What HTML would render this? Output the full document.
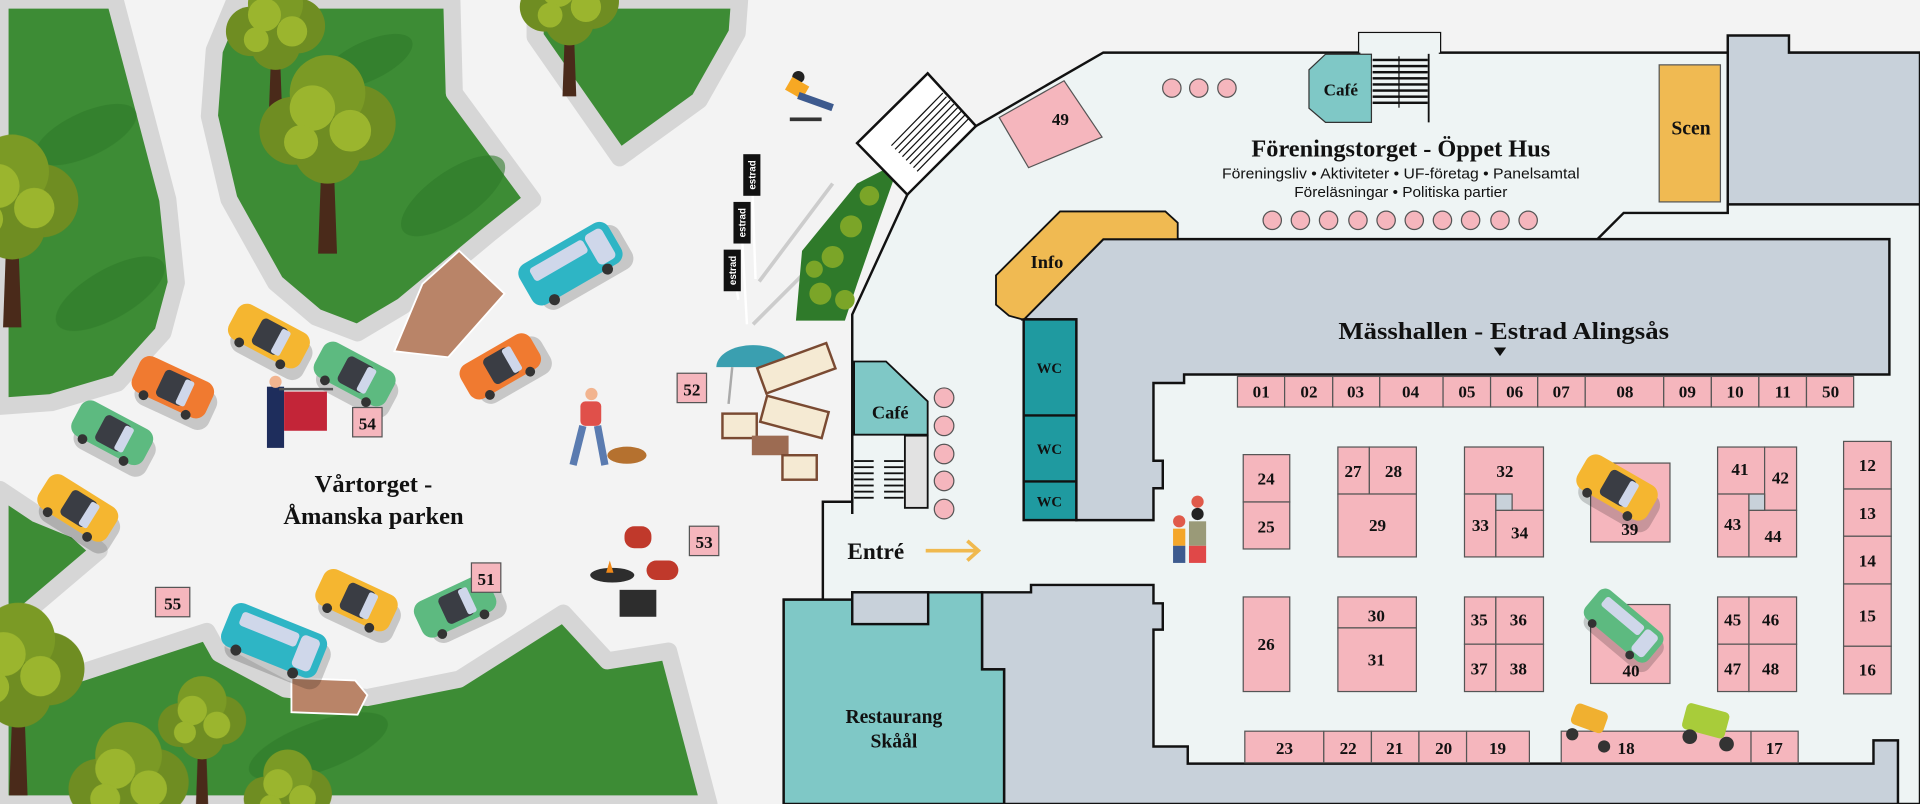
<!DOCTYPE html>
<html><head><meta charset="utf-8"><style>
html,body{margin:0;padding:0;background:#f3f3f3;overflow:hidden;width:1920px;height:804px}
svg{display:block;position:absolute;left:0;top:0}
.n{font-family:"Liberation Serif",serif;font-weight:bold;font-size:14px;fill:#111;text-anchor:middle}
.t{font-family:"Liberation Serif",serif;font-weight:bold;fill:#111;text-anchor:middle}
.s{font-family:"Liberation Sans",sans-serif;fill:#111;text-anchor:middle}
.pk{fill:#f5b6bd;stroke:#555;stroke-width:1}
</style></head><body>
<svg width="1920" height="804" viewBox="0 0 1568 657" preserveAspectRatio="none" xmlns="http://www.w3.org/2000/svg" overflow="hidden">
<defs>
<clipPath id="clp"><rect width="1568" height="657"/></clipPath>
<symbol id="car" viewBox="0 0 70 36" overflow="visible">
<rect x="6" y="6" width="66" height="34" rx="10" fill="#000" opacity="0.18"/>
<rect x="0" y="0" width="66" height="32" rx="9"/>
<rect x="22" y="4" width="24" height="24" rx="4" fill="#3a3d44"/>
<rect x="40" y="5" width="8" height="22" rx="2" fill="#cfd7ea"/>
<circle cx="14" cy="32" r="4" fill="#333"/><circle cx="52" cy="32" r="4" fill="#333"/>
</symbol>
<symbol id="van" viewBox="0 0 84 40" overflow="visible">
<rect x="6" y="6" width="84" height="40" rx="10" fill="#000" opacity="0.18"/>
<rect x="0" y="0" width="84" height="38" rx="9"/>
<rect x="10" y="6" width="50" height="12" rx="3" fill="#cfd7ea"/>
<rect x="62" y="5" width="16" height="28" rx="4" fill="#cfd7ea"/>
<circle cx="16" cy="38" r="4.5" fill="#333"/><circle cx="66" cy="38" r="4.5" fill="#333"/>
</symbol>
<symbol id="tree" viewBox="-40 -40 80 110" overflow="visible">
<path d="M-3 10 L-5 65 L5 65 L3 10Z" fill="#4a2a1a"/>
<circle cx="-18" cy="0" r="18" fill="#6f8d22"/><circle cx="16" cy="-4" r="20" fill="#6f8d22"/>
<circle cx="0" cy="-20" r="20" fill="#7b9a25"/><circle cx="0" cy="10" r="18" fill="#6f8d22"/>
<circle cx="-8" cy="-12" r="12" fill="#9bb52e"/><circle cx="12" cy="0" r="11" fill="#9bb52e"/><circle cx="-14" cy="6" r="9" fill="#9bb52e"/>
</symbol>
</defs>
<g clip-path="url(#clp)">
<rect width="1568" height="657" fill="#f3f3f3"/>

<g stroke="#d6d6d6" stroke-width="14" stroke-linejoin="round" fill="#3d8c35">
<polygon points="0,0 94,0 112,68 137,163 144,231 133,272 96,313 42,329 0,332"/>
<polygon points="192,0 369,0 371,76 435,163 400,191 329,250 292,272 258,259 225,231 187,163 171,95 175,41"/>
<polygon points="437,0 604,0 602,27 571,82 506,129 437,30"/>
<polygon points="0,400 30,420 62,433 81,450 21,501 0,505"/>
<polygon points="0,522 50,555 169,516 179,534 233,563 300,570 375,555 460,501 496,540 546,532 579,657 0,657"/>
</g>
<g fill="#2f7a2a" opacity="0.6">
<ellipse cx="70" cy="110" rx="45" ry="18" transform="rotate(-25 70 110)"/>
<ellipse cx="90" cy="240" rx="50" ry="20" transform="rotate(-30 90 240)"/>
<ellipse cx="300" cy="50" rx="40" ry="16" transform="rotate(-25 300 50)"/>
<ellipse cx="370" cy="160" rx="50" ry="20" transform="rotate(-35 370 160)"/>
<ellipse cx="260" cy="610" rx="60" ry="20" transform="rotate(-20 260 610)"/>
</g>

<use href="#tree" x="-50" y="110" width="120" height="165"/>
<use href="#tree" x="180" y="-20" width="90" height="125"/>
<use href="#tree" x="205" y="45" width="125" height="170"/>
<use href="#tree" x="420" y="-40" width="90" height="125"/>
<use href="#tree" x="-45" y="490" width="120" height="170"/>
<use href="#tree" x="125" y="550" width="80" height="115"/>
<use href="#tree" x="50" y="590" width="110" height="150"/>
<use href="#tree" x="195" y="610" width="80" height="115"/>

<polygon points="322,287 345,232 375,205 412,240 366,292" fill="#b98468" stroke="#fff" stroke-width="1.5"/>
<polygon points="238,554 290,556 300,568 292,584 238,582" fill="#b98468" stroke="#fff" stroke-width="1.5"/>

<use href="#car" fill="#f5b630" x="0" y="0" width="70" height="36" transform="translate(198,245) rotate(28)"/>
<use href="#car" fill="#f07a30" x="0" y="0" width="70" height="36" transform="translate(118,288) rotate(25)"/>
<use href="#car" fill="#5dba80" x="0" y="0" width="70" height="36" transform="translate(70,324) rotate(28)"/>
<use href="#car" fill="#f5b630" x="0" y="0" width="70" height="36" transform="translate(44,384) rotate(32)"/>
<use href="#car" fill="#5dba80" x="0" y="0" width="70" height="36" transform="translate(268,276) rotate(28)"/>
<use href="#car" fill="#f07a30" x="0" y="0" width="70" height="36" transform="translate(372,302) rotate(-30)"/>
<use href="#van" fill="#2eb5c5" x="0" y="0" width="84" height="40" transform="translate(420,220) rotate(-30)"/>
<use href="#car" fill="#f5b630" x="0" y="0" width="70" height="36" transform="translate(268,462) rotate(25)"/>
<use href="#van" fill="#2eb5c5" x="0" y="0" width="84" height="40" transform="translate(192,490) rotate(22)"/>
<use href="#car" fill="#5dba80" x="0" y="0" width="70" height="36" transform="translate(335,495) rotate(-25)"/>

<g>
<line x1="614" y1="140" x2="617" y2="228" stroke="#fff" stroke-width="2"/>
<line x1="605" y1="175" x2="610" y2="265" stroke="#fff" stroke-width="2"/>
<line x1="598" y1="215" x2="603" y2="245" stroke="#fff" stroke-width="2"/>
<rect x="607" y="126" width="14" height="34" fill="#111"/>
<rect x="599" y="165" width="14" height="34" fill="#111"/>
<rect x="591" y="204" width="14" height="34" fill="#111"/>
<text transform="translate(617,143) rotate(-90)" class="s" font-size="8" style="fill:#fff;font-weight:bold">estrad</text>
<text transform="translate(609,182) rotate(-90)" class="s" font-size="8" style="fill:#fff;font-weight:bold">estrad</text>
<text transform="translate(601,221) rotate(-90)" class="s" font-size="8" style="fill:#fff;font-weight:bold">estrad</text>
<line x1="620" y1="230" x2="680" y2="150" stroke="#ccc" stroke-width="3"/>
<line x1="615" y1="265" x2="690" y2="190" stroke="#ccc" stroke-width="3"/>
</g>

<g>
<path d="M585,300 A30,18 0 0 1 645,300 Z" fill="#3a9fb0"/>
<line x1="598" y1="300" x2="595" y2="330" stroke="#aaa" stroke-width="2"/>
<rect x="620" y="290" width="60" height="22" fill="#f5ead3" stroke="#7a4a32" stroke-width="2" transform="rotate(-20 650 300)"/>
<rect x="590" y="338" width="28" height="20" fill="#f5ead3" stroke="#7a4a32" stroke-width="2"/>
<rect x="623" y="330" width="52" height="22" fill="#f5ead3" stroke="#7a4a32" stroke-width="2" transform="rotate(15 650 340)"/>
<rect x="614" y="356" width="30" height="16" fill="#9c6b52"/>
<rect x="639" y="372" width="28" height="20" fill="#f5ead3" stroke="#7a4a32" stroke-width="2"/>
<circle cx="483" cy="322" r="5" fill="#f2b48f"/><rect x="474" y="328" width="17" height="20" rx="4" fill="#e0504a"/><path d="M476,348 L468,380 M488,348 L494,380" stroke="#5a7bb0" stroke-width="6"/>
<ellipse cx="512" cy="372" rx="16" ry="7" fill="#b5712f"/>
<circle cx="652" cy="63" r="5" fill="#222"/><rect x="643" y="66" width="16" height="12" fill="#f7a823" transform="rotate(30 651 72)"/><path d="M652,78 L680,88" stroke="#3d5a8e" stroke-width="6"/>
<rect x="645" y="96" width="26" height="3" fill="#333"/>
<rect x="218" y="316" width="14" height="50" fill="#1e2d5c"/><circle cx="225" cy="312" r="5" fill="#f2b48f"/>
<rect x="232" y="320" width="35" height="32" fill="#c32538"/><line x1="228" y1="318" x2="272" y2="318" stroke="#555" stroke-width="2"/>
<g fill="#c0392b"><rect x="510" y="430" width="22" height="18" rx="8"/><rect x="528" y="458" width="26" height="16" rx="8"/></g>
<rect x="506" y="482" width="30" height="22" fill="#2d2d2d"/><ellipse cx="500" cy="470" rx="18" ry="6" fill="#2d2d2d"/>
<path d="M495,468 l3,-10 l3,10z" fill="#f08a1a"/>
<rect x="778" y="148" width="14" height="45" rx="5" fill="#d7d2b8"/><circle cx="785" cy="140" r="6" fill="#222"/>
<rect x="770" y="160" width="10" height="30" fill="#f4a62a"/><rect x="818" y="155" width="10" height="32" fill="#e04848"/>
<rect x="1282" y="56" width="14" height="60" fill="#1e4f66"/><rect x="1296" y="60" width="12" height="55" fill="#f4a62a"/>
<circle cx="1289" cy="52" r="6" fill="#c2463b"/><circle cx="1302" cy="58" r="5" fill="#222"/>
<circle cx="880" cy="118" r="10" fill="none" stroke="#e4a81c" stroke-width="2"/><circle cx="912" cy="118" r="10" fill="none" stroke="#e4a81c" stroke-width="2"/>
<rect x="890" y="85" width="12" height="24" fill="#6a7fb0"/><circle cx="898" cy="80" r="5" fill="#f0b94e"/>
</g>

<polygon points="650,262 655,205 700,150 735,132 718,180 700,232 690,262" fill="#2f7a2a"/>
<g fill="#7ba528"><circle cx="670" cy="240" r="9"/><circle cx="680" cy="210" r="9"/><circle cx="695" cy="185" r="9"/><circle cx="710" cy="160" r="8"/><circle cx="665" cy="220" r="7"/><circle cx="690" cy="245" r="8"/></g>

<polygon points="741,159 700,117 757.6,60 797,103 901,43 1110,43 1110,27 1176,27 1176,43 1568,43 1568,657 640,657 640,490 672,490 672,410 696,410 696,257" fill="#eef4f4" stroke="#111" stroke-width="2"/>
<polygon points="700,117 757.6,60 797,103 741,159" fill="#fff" stroke="#111" stroke-width="2"/>
<g stroke="#111" stroke-width="1">
<line x1="728" y1="119" x2="770" y2="76"/><line x1="731" y1="122" x2="773" y2="79"/><line x1="734" y1="125" x2="776" y2="82"/><line x1="737" y1="128" x2="779" y2="85"/><line x1="740" y1="131" x2="782" y2="88"/><line x1="743" y1="134" x2="785" y2="91"/><line x1="746" y1="137" x2="788" y2="94"/><line x1="749" y1="140" x2="791" y2="97"/>
</g>
<polygon points="1411,43 1411,29 1461,29 1461,43 1568,43 1568,167 1411,167" fill="#c8d1da" stroke="#111" stroke-width="2"/>
<polyline points="1305,195 1326,174 1411,174 1411,167" fill="none" stroke="#111" stroke-width="2"/>
<rect x="1110" y="27" width="66" height="16" fill="#eef4f4"/>
<g fill="#111"><rect x="1121" y="48" width="45" height="2"/><rect x="1121" y="53" width="45" height="2"/><rect x="1121" y="58" width="45" height="2"/><rect x="1121" y="63" width="45" height="2"/><rect x="1121" y="68" width="45" height="2"/><rect x="1121" y="73" width="45" height="2"/><rect x="1121" y="78" width="45" height="2"/><rect x="1121" y="83" width="45" height="2"/><rect x="1142" y="46" width="1" height="42"/><rect x="1166" y="44" width="1.5" height="56"/></g>
<polygon points="1082.5,44.3 1120,44.3 1120,100 1082.5,100 1069,88.4 1069,57" fill="#7fc8c6" stroke="#333" stroke-width="1"/>
<text x="1095" y="78" class="t" font-size="14">Café</text>
<polygon points="816,96 869,66 900,112 840,137" class="pk"/>
<text x="866" y="102" class="n">49</text>
<g class="pk"><circle cx="957" cy="72" r="7.5"/><circle cx="979" cy="72" r="7.5"/><circle cx="1002" cy="72" r="7.5"/>
<circle cx="1039" cy="180" r="7.5"/><circle cx="1062" cy="180" r="7.5"/><circle cx="1085" cy="180" r="7.5"/><circle cx="1109" cy="180" r="7.5"/><circle cx="1132" cy="180" r="7.5"/><circle cx="1155" cy="180" r="7.5"/><circle cx="1178" cy="180" r="7.5"/><circle cx="1201" cy="180" r="7.5"/><circle cx="1225" cy="180" r="7.5"/><circle cx="1248" cy="180" r="7.5"/>
<circle cx="771" cy="325" r="8"/><circle cx="771" cy="348" r="8"/><circle cx="771" cy="371" r="8"/><circle cx="771" cy="393" r="8"/><circle cx="771" cy="416" r="8"/></g>
<rect x="1355" y="53" width="50" height="112" fill="#f0ba52" stroke="#555" stroke-width="1"/>
<text x="1381" y="110" class="t" font-size="16">Scen</text>
<text x="1144" y="128" class="t" font-size="20" textLength="244" lengthAdjust="spacingAndGlyphs">Föreningstorget - Öppet Hus</text>
<text x="1144" y="146" class="s" font-size="12" textLength="292" lengthAdjust="spacingAndGlyphs">Föreningsliv • Aktiviteter  • UF-företag • Panelsamtal</text>
<text x="1144" y="161" class="s" font-size="12" textLength="174" lengthAdjust="spacingAndGlyphs">Föreläsningar • Politiska partier</text>

<polygon points="901,195.4 1543,195.4 1543,306 967,306 967,313 942,313 942,376.5 949.6,376.5 949.6,399 942,399 942,425 879,425 879,261 836,261" fill="#c8d1da" stroke="#111" stroke-width="2"/>
<polygon points="865.7,172.8 951.7,172.8 961.8,182 961.8,195.4 901,195.4 836,261.3 824,258 813.4,249 813.4,225" fill="#f0ba52" stroke="#111" stroke-width="1.5"/>
<text x="855" y="219" class="t" font-size="15">Info</text>
<rect x="836" y="261" width="43" height="164" fill="#1f9aa0" stroke="#111" stroke-width="2"/>
<line x1="836" y1="339.5" x2="879" y2="339.5" stroke="#111" stroke-width="2"/>
<line x1="836" y1="393.4" x2="879" y2="393.4" stroke="#111" stroke-width="2"/>
<text x="857" y="305" class="t" font-size="12">WC</text>
<text x="857" y="371" class="t" font-size="12">WC</text>
<text x="857" y="414" class="t" font-size="12">WC</text>
<text x="1228" y="277" class="t" font-size="20" textLength="270" lengthAdjust="spacingAndGlyphs">Mässhallen - Estrad Alingsås</text>
<polygon points="1220,284 1230,284 1225,291" fill="#111"/>

<polygon points="802,484 842,484 842,478 942,478 942,493 949.6,493 949.6,514.5 942,514.5 942,610 970,610 970,624 1530,624 1530,605 1550,605 1550,657 820,657 820,547 802,547" fill="#c8d1da" stroke="#111" stroke-width="2"/>
<polygon points="640,490 696,490 696,484 802,484 802,547 820,547 820,657 640,657" fill="#7fc8c6" stroke="#111" stroke-width="2"/>
<rect x="696" y="484" width="62" height="26" fill="#c8d1da" stroke="#111" stroke-width="2"/>
<text x="730" y="591" class="t" font-size="16">Restaurang</text>
<text x="730" y="611" class="t" font-size="16">Skåål</text>
<polygon points="697.5,295.4 723.6,295.4 757.6,328 757.6,355.2 697.5,355.2" fill="#7fc8c6" stroke="#111" stroke-width="1.5"/>
<text x="727" y="342" class="t" font-size="15">Café</text>
<rect x="739" y="356" width="18.6" height="59" fill="#e2e2e2" stroke="#111" stroke-width="1.5"/>
<g fill="#111"><rect x="697.5" y="376" width="16" height="1.5"/><rect x="697.5" y="381" width="16" height="1.5"/><rect x="697.5" y="386" width="16" height="1.5"/><rect x="697.5" y="391" width="16" height="1.5"/><rect x="697.5" y="396" width="16" height="1.5"/><rect x="697.5" y="401" width="16" height="1.5"/><rect x="697.5" y="406" width="16" height="1.5"/>
<rect x="722" y="376" width="16" height="1.5"/><rect x="722" y="381" width="16" height="1.5"/><rect x="722" y="386" width="16" height="1.5"/><rect x="722" y="391" width="16" height="1.5"/><rect x="722" y="396" width="16" height="1.5"/><rect x="722" y="401" width="16" height="1.5"/><rect x="722" y="406" width="16" height="1.5"/></g>
<line x1="696" y1="355" x2="696" y2="420" stroke="#111" stroke-width="2"/>
<text x="692" y="457" class="t" font-size="19" style="text-anchor:start">Entré</text>
<path d="M756,450 L798,450 M790,442 L799,450 L790,458" stroke="#f0b94e" stroke-width="3" fill="none"/>

<g class="pk">
<rect x="1010.6" y="307.6" width="38.5" height="25"/><rect x="1049.1" y="307.6" width="39.3" height="25"/><rect x="1088.4" y="307.6" width="38.4" height="25"/><rect x="1126.8" y="307.6" width="51.7" height="25"/><rect x="1178.5" y="307.6" width="38.8" height="25"/><rect x="1217.3" y="307.6" width="38.5" height="25"/><rect x="1255.8" y="307.6" width="38.8" height="25"/><rect x="1294.6" y="307.6" width="64.1" height="25"/><rect x="1358.7" y="307.6" width="38.9" height="25"/><rect x="1397.6" y="307.6" width="38.8" height="25"/><rect x="1436.4" y="307.6" width="38.9" height="25"/><rect x="1475.3" y="307.6" width="38.5" height="25"/>
<rect x="1015.3" y="371.5" width="38" height="38.7"/><rect x="1015.3" y="410.2" width="38" height="38.4"/><rect x="1015.3" y="487.8" width="38" height="77.3"/>
<rect x="1092.6" y="365.3" width="25.7" height="38.4"/><rect x="1118.3" y="365.3" width="38.4" height="38.4"/><rect x="1092.6" y="403.7" width="64.1" height="51.4"/>
<rect x="1092.6" y="487.8" width="64.1" height="25.3"/><rect x="1092.6" y="513.1" width="64.1" height="52"/>
<polygon points="1196,365.3 1260.5,365.3 1260.5,417 1221.6,417 1221.6,403.7 1196,403.7"/><rect x="1196" y="403.7" width="25.6" height="51.4"/><rect x="1221.6" y="417" width="38.9" height="38.1"/>
<rect x="1299" y="378.4" width="64.8" height="64.5"/><rect x="1299" y="494" width="64.8" height="64.5"/>
<rect x="1196" y="487.8" width="25.6" height="38.6"/><rect x="1221.6" y="487.8" width="38.9" height="38.6"/><rect x="1196" y="526.4" width="25.6" height="38.7"/><rect x="1221.6" y="526.4" width="38.9" height="38.7"/>
<rect x="1402.7" y="365.3" width="38.4" height="38.4"/><rect x="1441.1" y="365.3" width="26.1" height="51.7"/><rect x="1402.7" y="403.7" width="25.6" height="51.4"/><rect x="1428.3" y="417" width="38.9" height="38.1"/>
<rect x="1402.7" y="487.8" width="25.6" height="38.6"/><rect x="1428.3" y="487.8" width="38.9" height="38.6"/><rect x="1402.7" y="526.4" width="25.6" height="38.7"/><rect x="1428.3" y="526.4" width="38.9" height="38.7"/>
<rect x="1505.6" y="360.7" width="38.9" height="38.9"/><rect x="1505.6" y="399.6" width="38.9" height="38.6"/><rect x="1505.6" y="438.2" width="38.9" height="39"/><rect x="1505.6" y="477.2" width="38.9" height="50.9"/><rect x="1505.6" y="528.1" width="38.9" height="38.9"/>
<rect x="1016.6" y="597.5" width="64.5" height="25.8"/><rect x="1081.1" y="597.5" width="38.9" height="25.8"/><rect x="1120" y="597.5" width="38.8" height="25.8"/><rect x="1158.8" y="597.5" width="38.9" height="25.8"/><rect x="1197.7" y="597.5" width="51.3" height="25.8"/>
<rect x="1275" y="597.5" width="155" height="25.8"/><rect x="1430" y="597.5" width="38.5" height="25.8"/>
</g>
<g fill="#c8d1da" stroke="#555" stroke-width="1"><rect x="1221.6" y="403.7" width="13.3" height="13.3"/><rect x="1428.3" y="403.7" width="12.8" height="13.3"/></g>
<g class="n">
<text x="1030" y="325">01</text><text x="1069" y="325">02</text><text x="1107" y="325">03</text><text x="1152" y="325">04</text><text x="1198" y="325">05</text><text x="1237" y="325">06</text><text x="1275" y="325">07</text><text x="1327" y="325">08</text><text x="1378" y="325">09</text><text x="1417" y="325">10</text><text x="1456" y="325">11</text><text x="1495" y="325">50</text>
<text x="1034" y="396">24</text><text x="1034" y="435">25</text><text x="1034" y="531">26</text>
<text x="1105" y="390">27</text><text x="1138" y="390">28</text><text x="1125" y="434">29</text>
<text x="1124" y="508">30</text><text x="1124" y="544">31</text>
<text x="1229" y="390">32</text><text x="1209" y="434">33</text><text x="1241" y="440">34</text>
<text x="1331" y="437">39</text><text x="1332" y="553">40</text>
<text x="1208" y="511">35</text><text x="1240" y="511">36</text><text x="1208" y="551">37</text><text x="1240" y="551">38</text>
<text x="1421" y="388">41</text><text x="1454" y="395">42</text><text x="1415" y="433">43</text><text x="1448" y="443">44</text>
<text x="1415" y="511">45</text><text x="1446" y="511">46</text><text x="1415" y="551">47</text><text x="1446" y="551">48</text>
<text x="1525" y="385">12</text><text x="1525" y="424">13</text><text x="1525" y="463">14</text><text x="1525" y="508">15</text><text x="1525" y="552">16</text>
<text x="1049" y="616">23</text><text x="1101" y="616">22</text><text x="1139" y="616">21</text><text x="1179" y="616">20</text><text x="1223" y="616">19</text>
<text x="1328" y="616">18</text><text x="1449" y="616">17</text>
</g>
<use href="#car" fill="#f5b630" x="0" y="0" width="70" height="36" transform="translate(1300,368) rotate(30)"/>
<use href="#van" fill="#5dba80" x="0" y="0" width="84" height="40" transform="translate(1310,478) rotate(40) scale(0.8)"/>
<g><rect x="1284" y="578" width="28" height="18" rx="4" fill="#f0b030" transform="rotate(20 1298 587)"/><circle cx="1284" cy="600" r="5" fill="#333"/><circle cx="1310" cy="610" r="5" fill="#333"/>
<rect x="1375" y="578" width="36" height="22" rx="4" fill="#a8cc3a" transform="rotate(15 1393 589)"/><circle cx="1380" cy="602" r="6" fill="#333"/><circle cx="1410" cy="608" r="6" fill="#333"/></g>
<g><circle cx="963" cy="426" r="5" fill="#e05a4a"/><rect x="958" y="432" width="10" height="14" fill="#f4a62a"/><rect x="958" y="446" width="10" height="14" fill="#3d5a8e"/>
<circle cx="978" cy="420" r="5" fill="#222"/><rect x="971" y="426" width="14" height="20" fill="#9a9a78"/><rect x="971" y="446" width="14" height="14" fill="#e04848"/><circle cx="978" cy="410" r="5" fill="#e05a4a"/></g>

<text x="305" y="402" class="t" font-size="20">Vårtorget -</text>
<text x="305" y="428" class="t" font-size="20">Åmanska parken</text>
<g class="pk"><rect x="288" y="333" width="24" height="24"/><rect x="553" y="305" width="24" height="24"/><rect x="563" y="430" width="24" height="24"/><rect x="385" y="460" width="24" height="24"/><rect x="127" y="480" width="28" height="24"/></g>
<g class="n"><text x="300" y="351">54</text><text x="565" y="323">52</text><text x="575" y="448">53</text><text x="397" y="478">51</text><text x="141" y="498">55</text></g>
</g>
</svg>
</body></html>
